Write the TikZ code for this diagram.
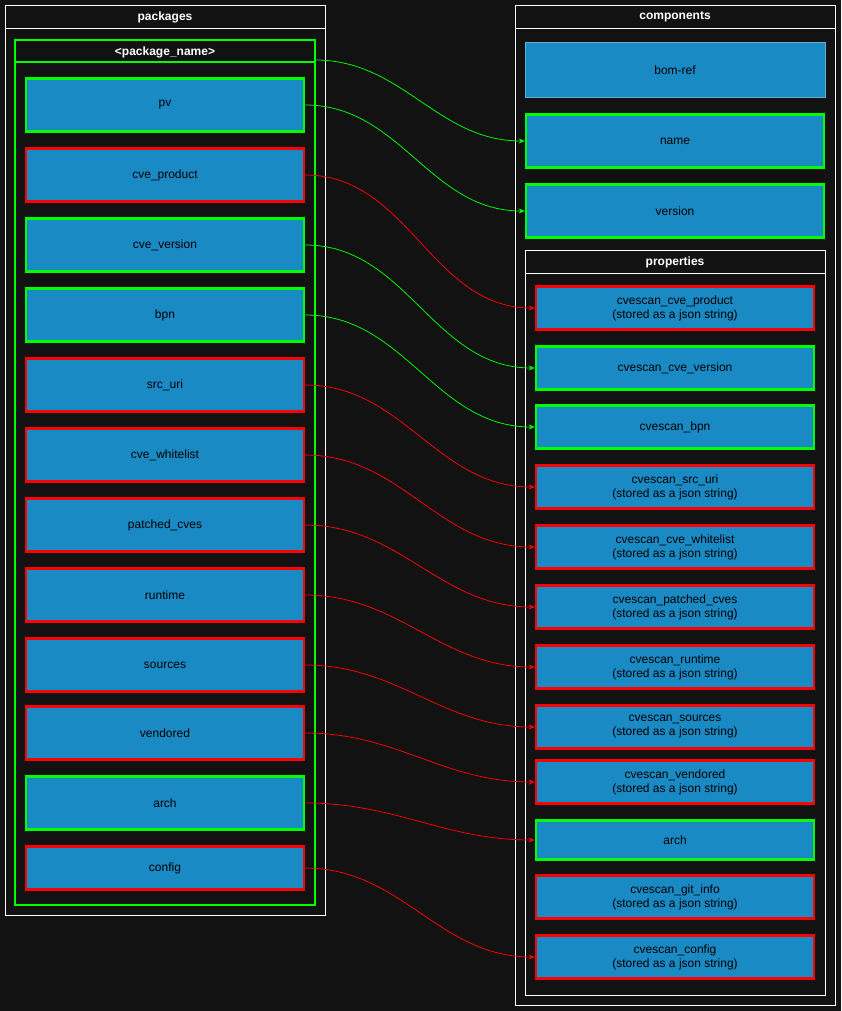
\documentclass[tikz,border=0pt]{standalone}
\usepackage{fontspec}
\setmainfont{Liberation Sans}
\usetikzlibrary{arrows.meta}
\definecolor{bgdark}{HTML}{121212}
\definecolor{itemblue}{HTML}{1A8AC4}
\definecolor{okgreen}{HTML}{00FF00}
\definecolor{badred}{HTML}{FF0000}
\tikzset{every picture/.style={line width=0.75pt}}
\tikzset{
  item/.style={draw=#1, line width=2.5pt, fill=itemblue, minimum width=278pt, minimum height=53pt, text=black, font=\fontsize{12}{14}\selectfont, align=center, inner sep=0pt},
  prop/.style={item=#1, minimum width=278pt, minimum height=43pt},
  title/.style={text=white, font=\fontsize{12}{14}\selectfont\bfseries},
  link/.style={draw=#1, line width=0.75pt, -{Stealth[length=6pt,width=5pt]}}
}
\begin{document}
\begin{tikzpicture}[x=1pt,y=1pt,yscale=-1,xscale=1]
\fill[bgdark] (0,0) rectangle (841,1011);
\useasboundingbox (0,0) rectangle (841,1011);

% packages
\draw[white] (5,5) rectangle (325,915);
\draw[white] (5,28) -- (325,28);
\node[title] (pkgtitle) at (165,17) {packages};
\draw[okgreen,line width=2.5pt] (15,40) rectangle (315,905);
\draw[okgreen,line width=2.5pt] (15,62) -- (315,62);
\node[title] (pkgname) at (165,52) {<package\_name>};
\coordinate (pkgnameout) at (315,60);

\node[item=okgreen] (pv) at (165,105) {pv};
\node[item=badred] (cveproduct) at (165,175) {cve\_product};
\node[item=okgreen] (cveversion) at (165,245) {cve\_version};
\node[item=okgreen] (bpn) at (165,315) {bpn};
\node[item=badred] (srcuri) at (165,385) {src\_uri};
\node[item=badred] (cvewhitelist) at (165,455) {cve\_whitelist};
\node[item=badred] (patchedcves) at (165,525) {patched\_cves};
\node[item=badred] (runtime) at (165,595) {runtime};
\node[item=badred] (sources) at (165,665) {sources};
\node[item=badred] (vendored) at (165,733) {vendored};
\node[item=okgreen] (arch) at (165,803) {arch};
\node[item=badred, minimum height=43pt] (config) at (165,868) {config};

% components
\draw[white] (515,5) rectangle (835,1005);
\draw[white] (515,28) -- (835,28);
\node[title] (comptitle) at (675,17) {components};
\node[draw=itemblue!70!white, fill=itemblue, minimum width=300pt, minimum height=55pt, font=\fontsize{12}{14}\selectfont, inner sep=0pt] (bomref) at (675,70) {bom-ref};
\node[item=okgreen, minimum width=298pt] (cname) at (675,141) {name};
\node[item=okgreen, minimum width=298pt] (cversion) at (675,211) {version};

% properties
\draw[white] (525,250) rectangle (825,995);
\draw[white] (525,273) -- (825,273);
\node[title] (proptitle) at (675,262) {properties};

\node[prop=badred] (pcveproduct) at (675,308) {cvescan\_cve\_product\\(stored as a json string)};
\node[prop=okgreen] (pcveversion) at (675,368) {cvescan\_cve\_version};
\node[prop=okgreen] (pbpn) at (675,427) {cvescan\_bpn};
\node[prop=badred] (psrcuri) at (675,487) {cvescan\_src\_uri\\(stored as a json string)};
\node[prop=badred] (pcvewhitelist) at (675,547) {cvescan\_cve\_whitelist\\(stored as a json string)};
\node[prop=badred] (ppatchedcves) at (675,607) {cvescan\_patched\_cves\\(stored as a json string)};
\node[prop=badred] (pruntime) at (675,667) {cvescan\_runtime\\(stored as a json string)};
\node[prop=badred] (psources) at (675,727) {cvescan\_sources\\(stored as a json string)};
\node[prop=badred] (pvendored) at (675,782) {cvescan\_vendored\\(stored as a json string)};
\node[prop=okgreen, minimum height=39pt] (parch) at (675,840) {arch};
\node[prop=badred] (pgitinfo) at (675,897) {cvescan\_git\_info\\(stored as a json string)};
\node[prop=badred] (pconfig) at (675,957) {cvescan\_config\\(stored as a json string)};

% links
\draw[link=okgreen] (pkgnameout) to[out=0,in=180] (cname.west);
\draw[link=okgreen] (pv.east) to[out=0,in=180] (cversion.west);
\draw[link=badred] (cveproduct.east) to[out=0,in=180] (pcveproduct.west);
\draw[link=okgreen] (cveversion.east) to[out=0,in=180] (pcveversion.west);
\draw[link=okgreen] (bpn.east) to[out=0,in=180] (pbpn.west);
\draw[link=badred] (srcuri.east) to[out=0,in=180] (psrcuri.west);
\draw[link=badred] (cvewhitelist.east) to[out=0,in=180] (pcvewhitelist.west);
\draw[link=badred] (patchedcves.east) to[out=0,in=180] (ppatchedcves.west);
\draw[link=badred] (runtime.east) to[out=0,in=180] (pruntime.west);
\draw[link=badred] (sources.east) to[out=0,in=180] (psources.west);
\draw[link=badred] (vendored.east) to[out=0,in=180] (pvendored.west);
\draw[link=badred] (arch.east) to[out=0,in=180] (parch.west);
\draw[link=badred] (config.east) to[out=0,in=180] (pconfig.west);

\end{tikzpicture}
\end{document}
